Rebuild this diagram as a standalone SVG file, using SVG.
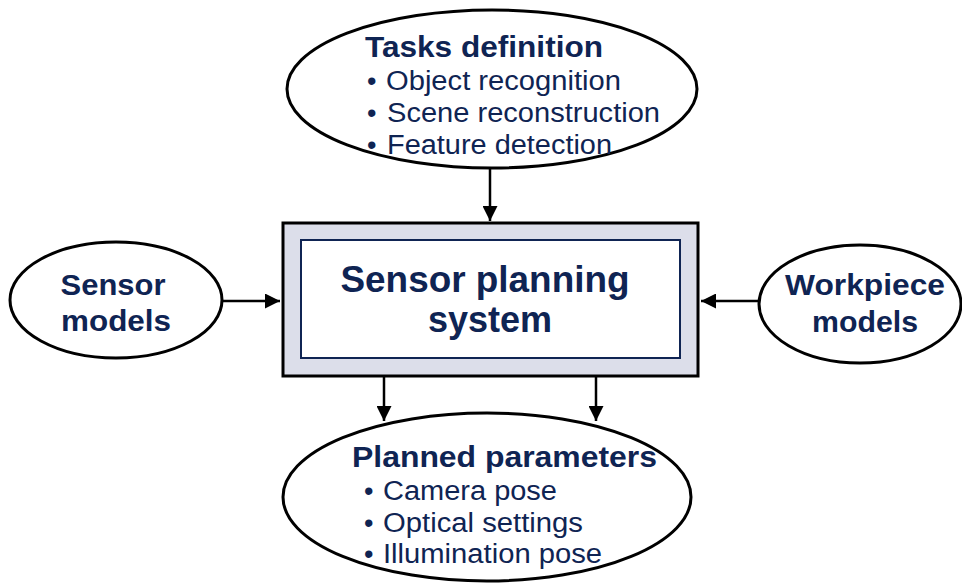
<svg xmlns="http://www.w3.org/2000/svg" width="962" height="586" viewBox="0 0 962 586">
<style>
.el{fill:#fff;stroke:#000;stroke-width:3}
.t{font-family:"Liberation Sans",Arial,sans-serif;fill:#0f2453}
.b{font-weight:bold}
.h{font-size:29px;font-weight:bold}
.i{font-size:27px}
.c{stroke:#000;stroke-width:2.5;fill:none;marker-end:url(#ah)}
</style>
<defs>
<marker id="ah" viewBox="0 0 10 10" refX="10" refY="5" markerWidth="6" markerHeight="6" markerUnits="strokeWidth" orient="auto">
<path d="M0,0 L10,5 L0,10 Z" fill="#000"/>
</marker>
</defs>
<rect width="962" height="586" fill="#fff"/>
<g id="connectors">
<line class="c" x1="490" y1="168" x2="490" y2="221"/>
<line class="c" x1="223" y1="301" x2="280" y2="301"/>
<line class="c" x1="758" y1="301" x2="701" y2="301"/>
<line class="c" x1="384" y1="377" x2="384" y2="421"/>
<line class="c" x1="596" y1="377" x2="596" y2="421"/>
</g>
<g id="tasks">
<ellipse class="el" cx="492" cy="89" rx="205" ry="79"/>
<text class="t h" x="365" y="57" textLength="238" lengthAdjust="spacingAndGlyphs">Tasks definition</text>
<text class="t i" x="367" y="90">•</text>
<text class="t i" x="386" y="90" textLength="235" lengthAdjust="spacingAndGlyphs">Object recognition</text>
<text class="t i" x="367" y="122">•</text>
<text class="t i" x="387" y="122" textLength="273" lengthAdjust="spacingAndGlyphs">Scene reconstruction</text>
<text class="t i" x="367" y="154">•</text>
<text class="t i" x="387" y="154" textLength="225" lengthAdjust="spacingAndGlyphs">Feature detection</text>
</g>
<g id="system">
<rect x="283" y="223" width="415" height="153" fill="#dcdeea" stroke="#000" stroke-width="3"/>
<rect x="301" y="240" width="379" height="118" fill="#fff" stroke="#0f2453" stroke-width="2"/>
<text class="t b" x="485" y="292" font-size="36" text-anchor="middle" textLength="289" lengthAdjust="spacingAndGlyphs">Sensor planning</text>
<text class="t b" x="490" y="332" font-size="36" text-anchor="middle">system</text>
</g>
<g id="sensor">
<ellipse class="el" cx="116" cy="300" rx="106" ry="58"/>
<text class="t h" x="113" y="295" text-anchor="middle" textLength="105" lengthAdjust="spacingAndGlyphs">Sensor</text>
<text class="t h" x="116" y="331" text-anchor="middle" textLength="110" lengthAdjust="spacingAndGlyphs">models</text>
</g>
<g id="workpiece">
<ellipse class="el" cx="860" cy="304" rx="101" ry="59"/>
<text class="t h" x="865" y="295" text-anchor="middle" textLength="160" lengthAdjust="spacingAndGlyphs">Workpiece</text>
<text class="t h" x="865" y="332" text-anchor="middle" textLength="106" lengthAdjust="spacingAndGlyphs">models</text>
</g>
<g id="planned">
<ellipse class="el" cx="487" cy="497" rx="204" ry="84"/>
<text class="t h" x="352" y="467" textLength="305" lengthAdjust="spacingAndGlyphs">Planned parameters</text>
<text class="t i" x="364" y="500">•</text>
<text class="t i" x="383" y="500" textLength="174" lengthAdjust="spacingAndGlyphs">Camera pose</text>
<text class="t i" x="364" y="532">•</text>
<text class="t i" x="383" y="532" textLength="200" lengthAdjust="spacingAndGlyphs">Optical settings</text>
<text class="t i" x="364" y="563">•</text>
<text class="t i" x="383" y="563" textLength="219" lengthAdjust="spacingAndGlyphs">Illumination pose</text>
</g>
</svg>
